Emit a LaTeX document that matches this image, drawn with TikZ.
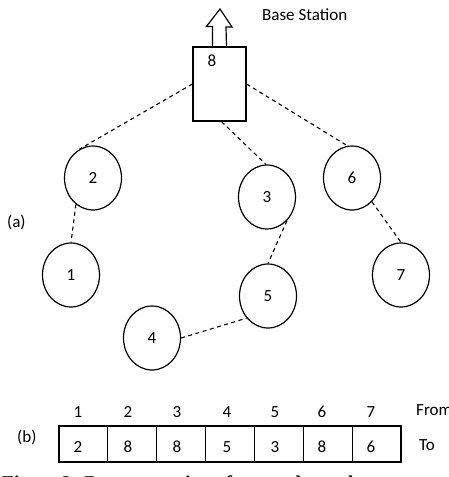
\documentclass[tikz,border=0pt]{standalone}
\usepackage{fontspec}
\setmainfont{Carlito}
\newfontfamily\capfont{Liberation Serif}
\usetikzlibrary{shapes.geometric}
\begin{document}
\begin{tikzpicture}[x=1pt,y=-1pt,
  every node/.style={font=\fontsize{17}{20}\selectfont, inner sep=0pt},
  vnode/.style={draw, ellipse, line width=1.2pt, minimum width=57pt, minimum height=64pt},
  link/.style={line width=1.1pt, dash pattern=on 4pt off 3.5pt},
  cell/.style={draw, line width=1.2pt, minimum width=48.86pt, minimum height=36pt},
  lbl/.style={anchor=west}]
\useasboundingbox (0,0) rectangle (449,477);
\clip (0,0) rectangle (449,477);
% base station
\node[draw, line width=1.2pt, minimum width=53pt, minimum height=74pt] (bs) at (219.5,84) {};
\node (l8) at (212,61) {8};
\draw[line width=1.2pt, line join=miter] ([xshift=-7pt]bs.north) -- ++(0,-20) -- ++(-6,0) -- (220,9) -- (232,27) -- ++(-6,0) -- ([xshift=7pt]bs.north);
\node[lbl] (bst) at (262,15) {Base Station};
% sensor nodes
\node[vnode] (n2) at (93,178) {2};
\node[vnode] (n1) at (71,275) {1};
\node[vnode] (n3) at (267,197) {3};
\node[vnode] (n6) at (352,178) {6};
\node[vnode] (n7) at (401,275) {7};
\node[vnode] (n5) at (268,296) {5};
\node[vnode] (n4) at (152,338) {4};
% links
\draw[link] (bs.west) -- (n2.115);
\draw[link] ([xshift=2pt]bs.south) -- (n3.92);
\draw[link] (bs.east) -- (n6.98);
\draw[link] (n2.237) -- (n1.90);
\draw[link] (n3.310) -- (n5.90);
\draw[link] (n6.310) -- (n7.90);
\draw[link] (n4.0) -- (n5.226);
\node[lbl] (la) at (7,222) {(a)};
% array
\foreach \i in {1,...,7} {
  \node[cell] (c\i) at ({59+48.857*(\i-0.5)},444) {};
}
\foreach \i/\x/\f/\t in {1/78/1/2, 2/128/2/8, 3/177/3/8, 4/227/4/5, 5/275/5/3, 6/322/6/8, 7/371/7/6} {
  \node (f\i) at (\x,412) {\f};
  \node (v\i) at (\x,447) {\t};
}
\node[lbl] (from) at (416,410) {From};
\node[lbl] (to) at (419,445) {To};
\node[lbl] (lb) at (17,437) {(b)};
\node[anchor=base west, font=\capfont\bfseries\fontsize{19.5}{22}\selectfont] (cap) at (2,489) {Figure 2: Representation of network topology};
\end{tikzpicture}
\end{document}
